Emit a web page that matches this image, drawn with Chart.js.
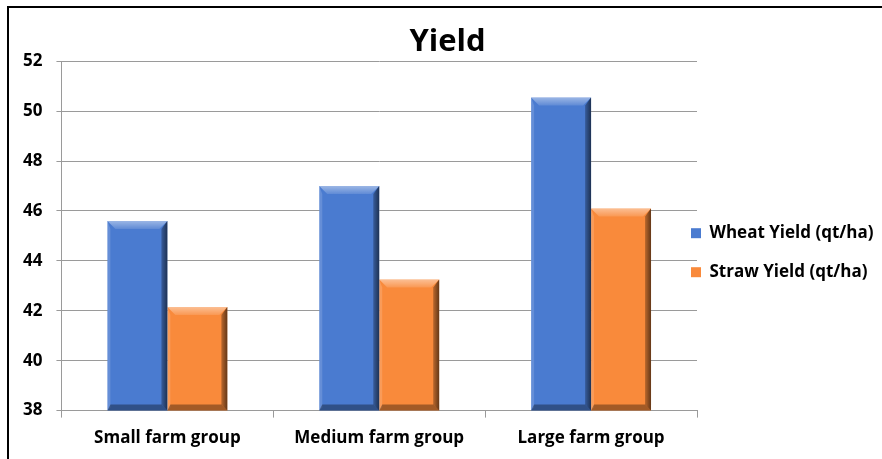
<!DOCTYPE html>
<html>
<head>
<meta charset="utf-8">
<script src="https://cdn.jsdelivr.net/npm/chart.js@4"></script>
<style>
    html, body { margin:0; padding:0; background:#fff; overflow:hidden; }
    #wrap { position:relative; width:882px; height:459px; }
    #frame { position:absolute; left:7px; top:6px; width:900px; height:500px; border:2px solid #000; box-sizing:border-box; }
    #yield { position:absolute; left:0; top:0; }
</style>
</head>
<body>
<div id="wrap">
    <div id="frame"></div>
    <canvas id="yield" width="882" height="459"></canvas>
</div>
<script>
'use strict';

var categories = ['Small farm group', 'Medium farm group', 'Large farm group'];
var wheatYield = [45.6, 47.0, 50.55];
var strawYield = [42.15, 43.25, 46.1];
var yTicks = [38, 40, 42, 44, 46, 48, 50, 52];

let YieldChart = function(){

    // little bevel on every bar, like the office 3d look
    var _bevel = {
        id : 'bevel',
        afterDatasetsDraw : function(chart){
            var ctx = chart.ctx;
            chart.data.datasets.forEach(function(ds, i){
                var meta = chart.getDatasetMeta(i);
                meta.data.forEach(function(bar){
                    var l = bar.x - bar.width / 2, r = bar.x + bar.width / 2;
                    var t = bar.y, b = Math.min(bar.base, chart.chartArea.bottom), e = 8;
                    ctx.save();
                    // top
                    var g = ctx.createLinearGradient(0, t, 0, t + e);
                    g.addColorStop(0, 'rgba(255,255,255,0.45)');
                    g.addColorStop(1, 'rgba(255,255,255,0.12)');
                    ctx.fillStyle = g;
                    ctx.beginPath();
                    ctx.moveTo(l, t); ctx.lineTo(r, t); ctx.lineTo(r - e, t + e); ctx.lineTo(l + e, t + e);
                    ctx.closePath(); ctx.fill();
                    // left
                    ctx.fillStyle = 'rgba(255,255,255,0.15)';
                    ctx.beginPath();
                    ctx.moveTo(l, t); ctx.lineTo(l + 3, t + e); ctx.lineTo(l + 3, b - 3); ctx.lineTo(l, b);
                    ctx.closePath(); ctx.fill();
                    // right
                    g = ctx.createLinearGradient(r - 6, 0, r, 0);
                    g.addColorStop(0, 'rgba(0,0,0,0.25)');
                    g.addColorStop(1, 'rgba(0,0,0,0.6)');
                    ctx.fillStyle = g;
                    ctx.beginPath();
                    ctx.moveTo(r, t); ctx.lineTo(r - 6, t + e); ctx.lineTo(r - 6, b - 6); ctx.lineTo(r, b);
                    ctx.closePath(); ctx.fill();
                    // bottom
                    ctx.fillStyle = 'rgba(0,0,0,0.35)';
                    ctx.beginPath();
                    ctx.moveTo(l, b); ctx.lineTo(r, b); ctx.lineTo(r - 6, b - 6); ctx.lineTo(l + 3, b - 6);
                    ctx.closePath(); ctx.fill();
                    ctx.restore();
                });
            });
        }
    };

    // legend in the original sits a bit into the plot's right edge, title a bit right of centre
    var _nudge = {
        id : 'nudge',
        afterLayout : function(chart){
            chart.legend.left -= 28;
            chart.legend.right = chart.width;
            chart.titleBlock.left += 7;
            chart.titleBlock.right += 7;
        }
    };

    var _draw = function(){
        var ctx = document.getElementById('yield').getContext('2d');
        var font = { family : 'Open Sans', size : 17, weight : 'bold' };
        var config = {
            type : 'bar',
            data : {
                labels : categories,
                datasets : [{
                    label : 'Wheat Yield (qt/ha)',
                    data : wheatYield,
                    backgroundColor : '#4a7bd0',
                    borderWidth : 0
                },{
                    label : 'Straw Yield (qt/ha)',
                    data : strawYield,
                    backgroundColor : '#f98a3b',
                    borderWidth : 0
                }]
            },
            options : {
                responsive : false,
                animation : false,
                layout : { padding : { left : 9, right : 10, top : 21, bottom : 1 } },
                datasets : { bar : { categoryPercentage : 0.566, barPercentage : 1 } },
                plugins : {
                    title : {
                        display : true,
                        text : 'Yield',
                        color : '#000',
                        font : { family : 'Open Sans', size : 31, weight : 'bold' },
                        padding : { top : 3, bottom : 0 }
                    },
                    legend : {
                        position : 'right',
                        maxWidth : 175,
                        title : { display : true, text : ' ', font : { size : 2 }, padding : { top : 12, bottom : 12 } },
                        labels : {
                            color : '#000',
                            font : font,
                            boxWidth : 10,
                            boxHeight : 10,
                            padding : 22
                        }
                    },
                    tooltip : { enabled : false }
                },
                scales : {
                    x : {
                        grid : { drawOnChartArea : false, color : '#9a9a9a', tickLength : 7 },
                        border : { color : '#9a9a9a' },
                        ticks : { color : '#000', font : font, padding : 10 }
                    },
                    y : {
                        min : yTicks[0],
                        max : yTicks[yTicks.length - 1],
                        afterBuildTicks : function(axis){
                            axis.ticks = yTicks.map(function(v){ return { value : v }; });
                        },
                        grid : { color : '#9a9a9a', tickLength : 5 },
                        border : { color : '#9a9a9a' },
                        ticks : { color : '#000', font : font, padding : 14 }
                    }
                }
            },
            plugins : [_bevel, _nudge]
        };

        window.yield_chart = new Chart(ctx, config);
    };

    return {
        init : function(){
            _draw();
        }
    }

}();

document.addEventListener('DOMContentLoaded', function(){
    YieldChart.init();
});
</script>
</body>
</html>
